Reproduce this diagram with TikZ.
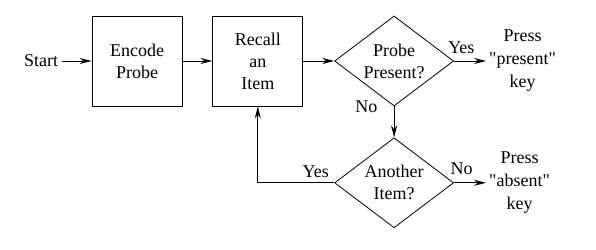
\documentclass[tikz,border=0pt]{standalone}
\usepackage{fontspec}
\setmainfont{Liberation Serif}[Ligatures=TeXOff]
\usetikzlibrary{positioning}
\usetikzlibrary{shapes.geometric}
\usetikzlibrary{arrows.meta}
\tikzset{node distance=30pt,
    every node/.style={
        align=center,
        font=\fontsize{18}{22}\selectfont},
    block/.style={
        draw,
        line width=0.8pt,
        minimum width=90pt,
        minimum height=90pt,
        inner sep=0pt},
    decision/.style={
        draw,
        diamond,
        aspect=1.32,
        line width=0.8pt,
        minimum width=119pt,
        minimum height=90pt,
        inner sep=0pt},
    answer/.style={
        inner sep=3pt,
        font=\fontsize{18}{23}\selectfont},
    flow/.style={
        draw,
        ->,>={Stealth[length=12pt,width=6pt]},
        line width=0.8pt}}

\begin{document}
\begin{tikzpicture}[x=1pt,y=1pt]
        \useasboundingbox (0,0) rectangle (596,249);
        \node[block] (encode) at (137,188) {Encode\\Probe};
        \node[left=of encode] (start) {Start};
        \node[block,right=of encode] (recall) {Recall\\an\\Item};
        \node[decision,right=31pt of recall] (present) {Probe\\Present?};
        \node[decision,below=31pt of present] (another) {Another\\Item?};
        \node[answer,right=32pt of present] (yeskey) {Press\\"present"\\key};
        \node[answer,right=32pt of another] (nokey) {Press\\"absent"\\key};

        \draw[flow] (start) -- (encode);
        \draw[flow] (encode) -- (recall);
        \draw[flow] (recall) -- (present);
        \draw[flow] (present.east) -- node[pos=0.23,above=4pt] {Yes} (present.east -| yeskey.west);
        \draw[flow] (present.south) node[left,xshift=-13pt] {No} -- (another.north);
        \draw[flow] (another.east) -- node[pos=0.24,above=4pt] {No} (another.east -| nokey.west);
        \draw[flow] (another.west) node[above left,inner sep=5pt] {Yes} -| (recall.south);
    \end{tikzpicture}
\end{document}
